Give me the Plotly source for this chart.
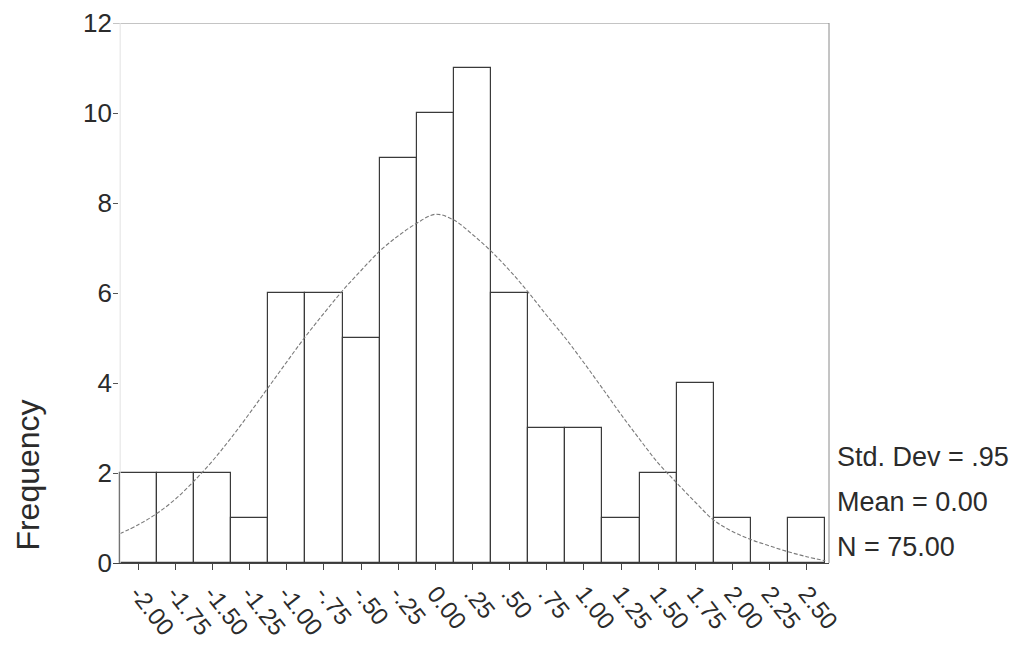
import plotly.graph_objects as go

# Histogram bins (midpoints) and frequencies
bin_centers = [-2.00, -1.75, -1.50, -1.25, -1.00, -0.75, -0.50, -0.25, 0.00, 0.25,
               0.50, 0.75, 1.00, 1.25, 1.50, 1.75, 2.00, 2.25, 2.50]
tick_labels = ["-2.00", "-1.75", "-1.50", "-1.25", "-1.00", "-.75", "-.50", "-.25", "0.00", ".25",
               ".50", ".75", "1.00", "1.25", "1.50", "1.75", "2.00", "2.25", "2.50"]
frequencies = [2, 2, 2, 1, 6, 6, 5, 9, 10, 11, 6, 3, 3, 1, 2, 4, 1, 0, 1]

# Normal curve
curve_x = [-2.125, -2.0, -1.875, -1.75, -1.625, -1.5, -1.375, -1.25, -1.125, -1.0,
           -0.875, -0.75, -0.625, -0.5, -0.375, -0.25, -0.125, 0.0, 0.125, 0.25,
           0.375, 0.5, 0.625, 0.75, 0.875, 1.0, 1.125, 1.25, 1.375, 1.5,
           1.625, 1.75, 1.875, 2.0, 2.125, 2.25, 2.375, 2.5, 2.625]
curve_y = [0.65, 0.85, 1.10, 1.42, 1.82, 2.27, 2.78, 3.33, 3.90, 4.47,
           5.03, 5.55, 6.05, 6.50, 6.93, 7.27, 7.55, 7.75, 7.62, 7.30,
           6.93, 6.50, 6.02, 5.50, 5.00, 4.45, 3.88, 3.30, 2.75, 2.22,
           1.78, 1.35, 0.95, 0.70, 0.52, 0.38, 0.25, 0.14, 0.05]

stats_lines = ["Std. Dev = .95", "Mean = 0.00", "N = 75.00"]
stats_y = [2.36, 1.36, 0.36]

y_ticks = [0, 2, 4, 6, 8, 10, 12]

FONT = "Liberation Sans, Arial, sans-serif"
TXT = "#2b2b2b"

fig = go.Figure()
fig.add_trace(go.Bar(
    x=bin_centers, y=frequencies, width=0.25,
    marker=dict(color="white", line=dict(color="#3a3a3a", width=1.2)),
    showlegend=False, hoverinfo="x+y",
))
fig.add_trace(go.Scatter(
    x=curve_x, y=curve_y, mode="lines",
    line=dict(color="#7a7a7a", width=1.1, dash="4px,2px", shape="spline"),
    showlegend=False, hoverinfo="skip",
))

fig.update_layout(
    width=1033, height=646,
    margin=dict(l=113, r=204, t=23, b=83),
    paper_bgcolor="white", plot_bgcolor="white",
    font=dict(family=FONT, color=TXT, size=26),
    bargap=0,
    xaxis=dict(
        range=[-2.17, 2.65], tickmode="array", tickvals=bin_centers, ticktext=tick_labels,
        tickangle=52, ticks="outside", ticklen=6, tickcolor="#444", tickwidth=1,
        showline=True, linecolor="#444", linewidth=1, showgrid=False, zeroline=False,
        automargin=False,
        tickfont=dict(size=24, family=FONT, color=TXT),
    ),
    yaxis=dict(
        range=[0, 12], tickmode="array", tickvals=y_ticks,
        ticks="inside", ticklen=5, tickcolor="#555", showline=False,
        showgrid=False, zeroline=False, automargin=False,
        tickfont=dict(size=26, family=FONT, color=TXT),
    ),
    shapes=[
        dict(type="line", xref="paper", yref="y", x0=0, x1=1, y0=12, y1=12,
             line=dict(color="#8a8a8a", width=1)),
        dict(type="line", xref="paper", yref="y", x0=1, x1=1, y0=0, y1=12,
             line=dict(color="#8a8a8a", width=1)),
        dict(type="line", xref="paper", yref="y", x0=0.01, x1=0.01, y0=0, y1=12,
             line=dict(color="#e2e2e2", width=1)),
    ],
)

for txt, yy in zip(stats_lines, stats_y):
    fig.add_annotation(text=txt, xref="paper", yref="y", x=1.008, y=yy,
                       xanchor="left", yanchor="middle", showarrow=False,
                       font=dict(size=27, family=FONT, color=TXT))

fig.add_annotation(text="Frequency", xref="paper", yref="y", x=-0.119, y=1.96,
                   xanchor="center", yanchor="middle", textangle=-90, showarrow=False,
                   font=dict(size=32, family=FONT, color=TXT))

fig.write_html("out.html")
